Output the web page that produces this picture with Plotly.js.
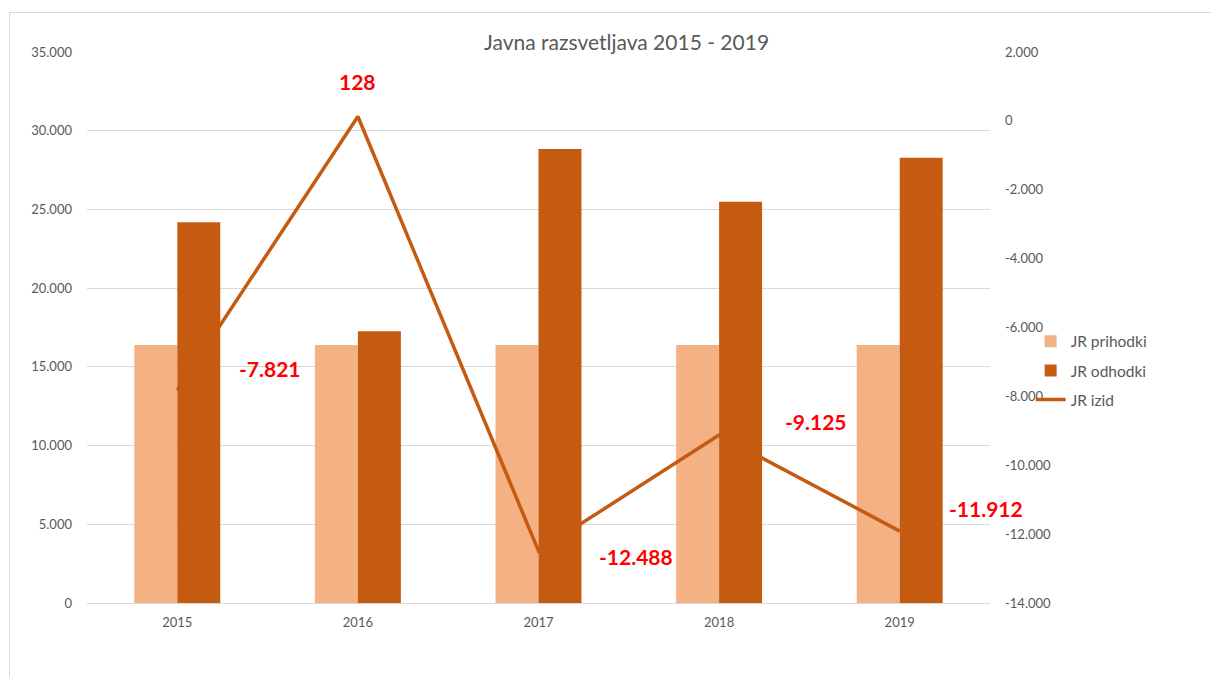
<!DOCTYPE html>
<html>
<head>
<meta charset="utf-8">
<script src="https://cdn.plot.ly/plotly-3.0.1.min.js"></script>
<style>
  html, body { margin: 0; padding: 0; overflow: hidden; background: #fff; }
  #frame { position: absolute; left: 9px; top: 12px; width: 1260px; height: 720px; border: 1px solid #d9d9d9; }
  #chart { position: absolute; left: 0; top: 0; width: 1211px; height: 677px; }
</style>
</head>
<body>
<div id="frame"></div>
<div id="chart"></div>
<script>
const years = ['2015', '2016', '2017', '2018', '2019'];
const prihodki = [16390, 16390, 16390, 16390, 16390];
const odhodki = [24190, 17260, 28840, 25490, 28290];
const izid = [-7821, 128, -12488, -9125, -11912];
const izidLabels = ['-7.821', '128', '-12.488', '-9.125', '-11.912'];
const leftTickVals = [0, 5000, 10000, 15000, 20000, 25000, 30000, 35000];
const leftTickText = ['0', '5.000', '10.000', '15.000', '20.000', '25.000', '30.000', '35.000'];
const rightTickVals = [-14000, -12000, -10000, -8000, -6000, -4000, -2000, 0, 2000];
const rightTickText = ['-14.000', '-12.000', '-10.000', '-8.000', '-6.000', '-4.000', '-2.000', '0', '2.000'];

const labelShifts = [[93, 22], [0, 35], [97, -6], [97, 14], [86, 23]];

const FONT = 'Lato, "Open Sans", sans-serif';
const GRAY = '#595959';

const traces = [
  { type: 'bar', name: 'JR prihodki', x: years, y: prihodki, marker: { color: '#F4B183' },
    legendgroup: 'a', hoverinfo: 'skip' },
  { type: 'bar', name: 'JR odhodki', x: years, y: odhodki, marker: { color: '#C55A11' },
    legendgroup: 'b', hoverinfo: 'skip' },
  { type: 'scatter', mode: 'lines', name: 'JR izid', x: years, y: izid, yaxis: 'y2',
    line: { color: '#C55A11', width: 3.5 }, legendgroup: 'c', hoverinfo: 'skip' }
];

const annotations = years.map((yr, i) => ({
  x: i, y: izid[i], xref: 'x', yref: 'y2', text: izidLabels[i], showarrow: false,
  xshift: labelShifts[i][0], yshift: labelShifts[i][1],
  font: { family: FONT, size: 21, color: '#FF0000', weight: 'bold' }
}));
annotations.push({
  text: 'Javna razsvetljava 2015 - 2019', xref: 'paper', yref: 'paper', x: 0.597, y: 1.0,
  yanchor: 'bottom', yshift: -4, showarrow: false,
  font: { family: FONT, size: 21, color: GRAY }
});

const layout = {
  width: 1211, height: 677,
  margin: { l: 87, r: 221, t: 52, b: 74 },
  paper_bgcolor: 'rgba(0,0,0,0)', plot_bgcolor: 'rgba(0,0,0,0)',
  font: { family: FONT, size: 13, color: GRAY },
  barmode: 'group', bargap: 0.524, bargroupgap: 0,
  showlegend: true,
  legend: { x: 1.045, y: 0.505, xanchor: 'left', yanchor: 'top', traceorder: 'grouped',
    tracegroupgap: 6, font: { family: FONT, size: 15.5, color: GRAY }, bgcolor: 'rgba(0,0,0,0)' },
  xaxis: { type: 'category', range: [-0.5, 4.5], showgrid: false, zeroline: false, showline: true,
    linecolor: '#d9d9d9', linewidth: 1, ticks: '', ticklabelstandoff: 7,
    tickfont: { family: FONT, size: 13, color: GRAY } },
  yaxis: { range: [0, 35000], tickvals: leftTickVals, ticktext: leftTickText,
    showgrid: true, gridcolor: '#d9d9d9', gridwidth: 1, zeroline: false, showline: false,
    ticks: '', ticklabelstandoff: 14, tickfont: { family: FONT, size: 13, color: GRAY } },
  yaxis2: { range: [-14000, 2000], overlaying: 'y', side: 'right', tickvals: rightTickVals,
    ticktext: rightTickText, showgrid: false, zeroline: false, showline: false, ticks: '',
    ticklabelstandoff: 14, tickfont: { family: FONT, size: 13, color: GRAY } },
  annotations: annotations
};

Plotly.newPlot('chart', traces, layout, { staticPlot: true, displayModeBar: false });
</script>
</body>
</html>
